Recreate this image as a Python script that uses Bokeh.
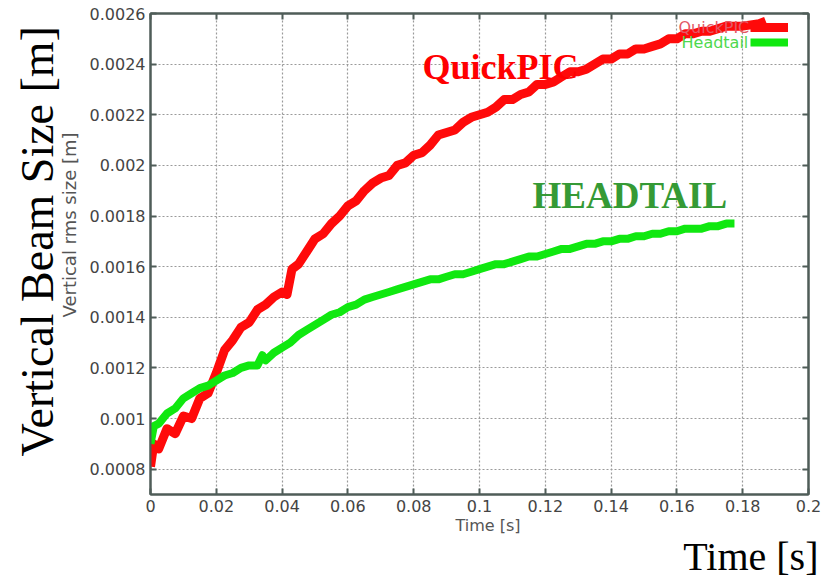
from bokeh.plotting import figure
from bokeh.models import (Range1d, FixedTicker, LinearAxis, Label, Legend, LegendItem, Title)
from bokeh.embed import file_html
from bokeh.resources import INLINE

# ---------------- data ----------------
quickpic_t = [0.0000, 0.0010, 0.0025, 0.0050, 0.0075, 0.0100, 0.0125, 0.0150, 0.0175, 0.0200,
              0.0225, 0.0250, 0.0275, 0.0300, 0.0325, 0.0350, 0.0375, 0.0400, 0.0415, 0.0430,
              0.0450, 0.0475, 0.0500, 0.0525, 0.0550, 0.0575, 0.0600, 0.0625, 0.0650, 0.0675,
              0.0700, 0.0725, 0.0750, 0.0775, 0.0800, 0.0825, 0.0850, 0.0875, 0.0900, 0.0925,
              0.0950, 0.0975, 0.1000, 0.1025, 0.1050, 0.1075, 0.1100, 0.1125, 0.1150, 0.1175,
              0.1200, 0.1225, 0.1250, 0.1275, 0.1300, 0.1325, 0.1350, 0.1375, 0.1400, 0.1425,
              0.1450, 0.1475, 0.1500, 0.1525, 0.1550, 0.1575, 0.1600, 0.1625, 0.1650, 0.1675,
              0.1700, 0.1750, 0.1800, 0.1850, 0.1870]
quickpic_v = [0.00081, 0.00090, 0.00088, 0.00096, 0.00094, 0.00101, 0.00100, 0.00108, 0.00110, 0.00118,
              0.00127, 0.00131, 0.00136, 0.00138, 0.00143, 0.00145, 0.00148, 0.00150, 0.00149, 0.00159,
              0.00161, 0.00166, 0.00171, 0.00173, 0.00177, 0.00180, 0.00184, 0.00186, 0.00190, 0.00193,
              0.00195, 0.00196, 0.00200, 0.00201, 0.00204, 0.00205, 0.00208, 0.00212, 0.00213, 0.00214,
              0.00217, 0.00219, 0.00220, 0.00221, 0.00223, 0.00226, 0.00226, 0.00228, 0.00229, 0.00232,
              0.00232, 0.00233, 0.00235, 0.00237, 0.00237, 0.00238, 0.00240, 0.00242, 0.00242, 0.00244,
              0.00244, 0.00246, 0.00246, 0.00247, 0.00248, 0.00250, 0.00250, 0.00252, 0.00252, 0.00253,
              0.00253, 0.00255, 0.00255, 0.00256, 0.00257]

headtail_t = [0.0000, 0.0010, 0.0025, 0.0050, 0.0075, 0.0100, 0.0125, 0.0150, 0.0175, 0.0200,
              0.0225, 0.0250, 0.0275, 0.0300, 0.0325, 0.0340, 0.0350, 0.0375, 0.0400, 0.0425,
              0.0450, 0.0475, 0.0500, 0.0525, 0.0550, 0.0575, 0.0600, 0.0625, 0.0650, 0.0675,
              0.0700, 0.0725, 0.0750, 0.0775, 0.0800, 0.0825, 0.0850, 0.0875, 0.0900, 0.0925,
              0.0950, 0.0975, 0.1000, 0.1025, 0.1050, 0.1075, 0.1100, 0.1125, 0.1150, 0.1175,
              0.1200, 0.1225, 0.1250, 0.1275, 0.1300, 0.1325, 0.1350, 0.1375, 0.1400, 0.1425,
              0.1450, 0.1475, 0.1500, 0.1525, 0.1550, 0.1575, 0.1600, 0.1625, 0.1650, 0.1675,
              0.1700, 0.1725, 0.1750, 0.1775]
headtail_v = [0.00090, 0.00097, 0.00098, 0.00102, 0.00104, 0.00108, 0.00110, 0.00112, 0.00113, 0.00115,
              0.00117, 0.00118, 0.00120, 0.00121, 0.00121, 0.00125, 0.00123, 0.00126, 0.00128, 0.00130,
              0.00133, 0.00135, 0.00137, 0.00139, 0.00141, 0.00142, 0.00144, 0.00145, 0.00147, 0.00148,
              0.00149, 0.00150, 0.00151, 0.00152, 0.00153, 0.00154, 0.00155, 0.00155, 0.00156, 0.00157,
              0.00157, 0.00158, 0.00159, 0.00160, 0.00161, 0.00161, 0.00162, 0.00163, 0.00164, 0.00164,
              0.00165, 0.00166, 0.00167, 0.00167, 0.00168, 0.00169, 0.00169, 0.00170, 0.00170, 0.00171,
              0.00171, 0.00172, 0.00172, 0.00173, 0.00173, 0.00174, 0.00174, 0.00175, 0.00175, 0.00175,
              0.00176, 0.00176, 0.00177, 0.00177]

x_ticks = [0, 0.02, 0.04, 0.06, 0.08, 0.1, 0.12, 0.14, 0.16, 0.18, 0.2]
x_tick_labels = ["0", "0.02", "0.04", "0.06", "0.08", "0.1", "0.12", "0.14", "0.16", "0.18", "0.2"]
y_ticks = [0.0008, 0.001, 0.0012, 0.0014, 0.0016, 0.0018, 0.002, 0.0022, 0.0024, 0.0026]
y_tick_labels = ["0.0008", "0.001", "0.0012", "0.0014", "0.0016", "0.0018", "0.002", "0.0022", "0.0024", "0.0026"]

series_names = ["QuickPIC", "Headtail"]
x_min, x_max = 0.0, 0.2
y_min, y_max = 0.0007, 0.0026

# ---------------- layout ----------------
W, H = 826, 578
FL, FT = 150, 13
FR = W - 808
FB = H - 494
FW = W - FL - FR
FH = H - FT - FB

def dx(px):  # picture px -> data x
    return x_min + (px - FL) / FW * (x_max - x_min)

def dy(py):  # picture px -> data y
    return y_max - (py - FT) / FH * (y_max - y_min)

p = figure(width=W, height=H, output_backend="svg", toolbar_location=None,
           x_range=Range1d(x_min, x_max), y_range=Range1d(y_min, y_max),
           min_border_left=FL, min_border_right=FR, min_border_top=FT, min_border_bottom=FB,
           background_fill_color="white", border_fill_color="white")

axis_col = "#4f5d58"
tick_font = "DejaVu Sans"

for ax, ticks, labels in ((p.xaxis[0], x_ticks, x_tick_labels), (p.yaxis[0], y_ticks, y_tick_labels)):
    ax.ticker = FixedTicker(ticks=ticks)
    ax.major_label_overrides = {t: l for t, l in zip(ticks, labels)}
    ax.major_tick_in = 6
    ax.major_tick_out = 0
    ax.minor_tick_in = 0
    ax.minor_tick_out = 0
    ax.axis_line_color = axis_col
    ax.axis_line_width = 2
    ax.major_tick_line_color = axis_col
    ax.major_tick_line_width = 2
    ax.major_label_text_font = tick_font
    ax.major_label_text_font_size = "16px"
    ax.major_label_text_color = "#444444"
    ax.major_label_standoff = 5
    ax.axis_label = None

for side, ticks in (("right", y_ticks), ("above", x_ticks)):
    ax = LinearAxis(ticker=FixedTicker(ticks=ticks))
    ax.major_label_text_font_size = "0px"
    ax.major_label_standoff = 0
    ax.major_tick_in = 6
    ax.major_tick_out = 0
    ax.minor_tick_in = 0
    ax.minor_tick_out = 0
    ax.axis_line_color = axis_col
    ax.axis_line_width = 2
    ax.major_tick_line_color = axis_col
    ax.major_tick_line_width = 2
    p.add_layout(ax, side)

# small axis titles (next to tick labels), then big serif ones further out
p.add_layout(Title(text="Vertical rms size [m]", text_font=tick_font, text_font_size="18px",
                   text_font_style="normal", text_color="#555555", align="left",
                   vertical_align="middle", offset=494 - 317, standoff=11), "left")
p.add_layout(Title(text="Vertical Beam Size [m]", text_font="Liberation Serif", text_font_size="46px",
                   text_font_style="normal", text_color="#000000", align="left",
                   offset=494 - 456, standoff=-21), "left")
p.add_layout(Title(text="Time [s]", text_font=tick_font, text_font_size="16px",
                   text_font_style="normal", text_color="#555555", align="left",
                   vertical_align="top", offset=455 - 150, standoff=2), "below")
p.add_layout(Title(text="Time [s]", text_font="Liberation Serif", text_font_size="40px",
                   text_font_style="normal", text_color="#000000", align="right", offset=-10,
                   standoff=-12), "below")

p.xgrid.ticker = FixedTicker(ticks=x_ticks)
p.ygrid.ticker = FixedTicker(ticks=y_ticks)
for g in (p.xgrid[0], p.ygrid[0]):
    g.grid_line_color = "#9a9a9a"
    g.grid_line_dash = "2 2"
    g.grid_line_width = 1.2
p.outline_line_color = axis_col
p.outline_line_width = 2

red = p.line(quickpic_t, quickpic_v, line_color="#ff0a0a", line_width=9, line_join="round")
green = p.line(headtail_t, headtail_v, line_color="#10e810", line_width=8, line_join="round")

# legend line samples (text drawn separately, to the left of the samples)
leg = Legend(items=[LegendItem(label=" ", renderers=[red]), LegendItem(label=" ", renderers=[green])],
             location=(FW - 58, FH - 36), orientation="vertical",
             glyph_width=38, glyph_height=14, label_height=14, label_width=1,
             label_standoff=0, spacing=1, padding=0, margin=0,
             border_line_alpha=0, background_fill_alpha=0, label_text_font_size="1px")
p.add_layout(leg, "center")

def add_label(text, px, py, size, color, font, style="normal", align="left", baseline="alphabetic"):
    p.add_layout(Label(x=dx(px), y=dy(py), text=text, text_font=font, text_font_size=size,
                       text_color=color, text_font_style=style, text_align=align,
                       text_baseline=baseline))

add_label(series_names[0], 678, 27, "16px", "#e35866", tick_font, baseline="middle")
add_label(series_names[1], 681, 42, "16px", "#4ed84e", tick_font, baseline="middle")

add_label("QuickPIC", 422, 66, "36px", "#ff0000", "Liberation Serif", style="bold")
add_label("HEADTAIL", 532, 195, "37px", "#359a35", "Liberation Serif", style="bold")

open("out.html", "w").write(file_html(p, INLINE))
